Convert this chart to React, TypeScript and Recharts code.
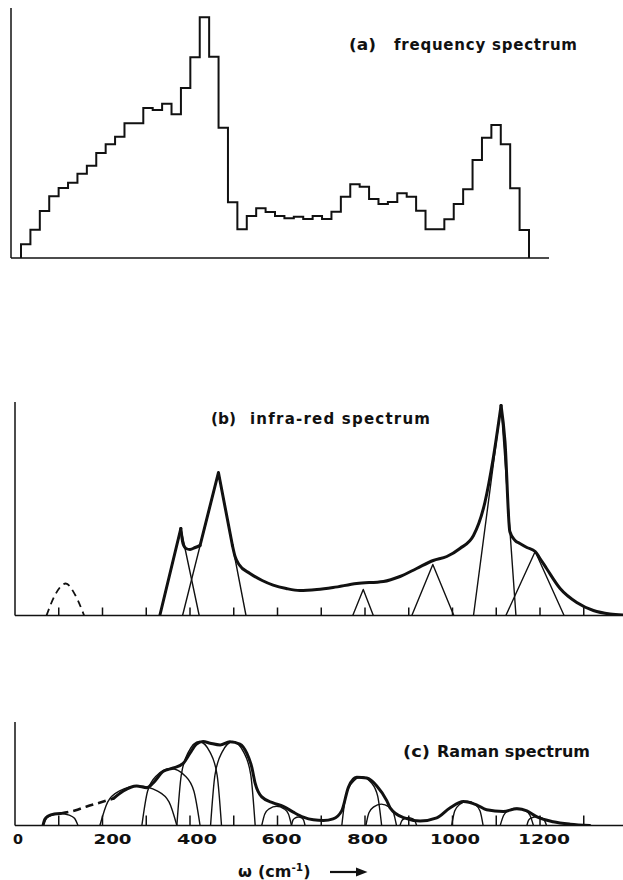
import React from 'react';
import { LineChart, Line, XAxis, YAxis } from 'recharts';

const INK = '#111';
const FONT = '"DejaVu Sans", "Liberation Sans", sans-serif';

type Pair = [number, number];

// (a) frequency spectrum: histogram height of each channel
const freqChannels = [
  13.7, 28.3, 47, 61.7, 70, 75.3, 84.3, 92.3, 105, 113.7, 121.3, 134.7, 134.7, 150,
  148, 154.3, 143.7, 170, 200.7, 240.7, 201.3, 130.3, 55.7, 28.7, 42, 49.7, 46, 42,
  39.7, 41.3, 39, 42, 39, 46.3, 61.3, 73.7, 71.3, 59, 54, 56, 64.7, 61.3, 47.3, 28.7,
  28.7, 38.7, 54, 68.7, 98, 120.3, 133, 113.7, 69.7, 28,
];

// (b) infra-red spectrum: [ω (cm⁻¹), absorption]
const irLowBand: Pair[] = [[72, 0], [91, 20], [116, 32], [137, 21], [158, 0]];
const irBandA: Pair[] = [[331, 0], [379, 87], [421, 0]];
const irBandB: Pair[] = [[383, 0], [465, 143], [528, 0]];
const irBandC: Pair[] = [[772, 0], [796, 26], [819, 0]];
const irBandD: Pair[] = [[907, 0], [955, 51], [1003, 0]];
const irBandE: Pair[] = [[1048, 0], [1111, 210], [1145, 0]];
const irBandF: Pair[] = [[1122, 0], [1189, 64], [1255, 0]];

const irEnvRise: Pair[] = [[331, 0], [379, 87]];
const irEnvDip: Pair[] = [[379, 87], [384, 72], [391, 67], [400, 66], [412, 68], [423, 70]];
const irEnvPeak: Pair[] = [[423, 70], [465, 143], [497, 70]];
const irEnvMid: Pair[] = [
  [497, 70], [503, 59], [512, 51], [537, 42], [565, 35], [590, 30.4], [620, 27], [651, 25],
  [690, 26], [727, 28], [781, 32], [842, 34], [880, 39], [918, 47], [956, 55], [987, 59],
  [1017, 67], [1048, 80], [1074, 113], [1093, 157], [1111, 210],
];
const irEnvTail: Pair[] = [
  [1111, 210], [1120, 174], [1131, 84], [1143, 75], [1154, 72], [1170, 68], [1189, 64],
  [1200, 57], [1215, 47], [1246, 27], [1284, 13], [1322, 5], [1360, 1.5], [1390, 0.5],
];

// (c) Raman spectrum: [ω (cm⁻¹), intensity]
const ramanBands: Pair[][] = [
  [[64, 0], [72, 7.2], [84, 10.4], [104, 12], [124, 10.4], [136, 7.2], [144, 0]],
  [[194, 0], [212, 23.7], [238, 34.4], [282, 39.5], [326, 34.4], [352, 23.7], [370, 0]],
  [[290, 0], [303, 34.2], [323, 49.6], [356, 57], [389, 49.6], [409, 34.2], [423, 0]],
  [[370, 0], [380, 50.4], [396, 73.1], [421, 84], [446, 73.1], [462, 50.4], [472, 0]],
  [[447, 0], [457, 50.4], [473, 73.1], [498, 84], [523, 73.1], [539, 50.4], [549, 0]],
  [[564, 0], [571, 11.5], [581, 16.7], [598, 19.2], [615, 16.7], [625, 11.5], [632, 0]],
  [[632, 0], [635, 5.1], [640, 7.4], [648, 8.5], [656, 7.4], [660, 5.1], [663, 0]],
  [[747, 0], [756, 29.3], [770, 42.5], [792, 48.8], [815, 42.5], [829, 29.3], [838, 0]],
  [[802, 0], [809, 12.8], [820, 18.6], [837, 21.4], [855, 18.6], [865, 12.8], [872, 0]],
  [[880, 0], [884, 4.7], [890, 6.9], [899, 7.9], [908, 6.9], [914, 4.7], [918, 0]],
  [[998, 0], [1005, 14.5], [1016, 21], [1034, 24.2], [1052, 21], [1063, 14.5], [1070, 0]],
  [[1109, 0], [1117, 10.3], [1128, 15], [1147, 17.2], [1166, 15], [1177, 10.3], [1185, 0]],
  [[1170, 0], [1174, 5.3], [1181, 7.7], [1192, 8.8], [1204, 7.7], [1210, 5.3], [1215, 0]],
];
const ramanEnvStart: Pair[] = [[64, 0], [68, 6], [76, 9.5], [90, 11.5], [104, 12]];
const ramanEnvDashed: Pair[] = [[104, 12], [137, 15], [164, 19], [195, 23], [225, 27]];
const ramanEnvMain: Pair[] = [
  [225, 27], [247.5, 34.5], [278, 39.5], [301, 37.8], [316, 42.7], [339, 54.2], [362, 57.5],
  [385, 62.4], [400, 72.3], [415, 81.6], [430, 83.9], [446, 82.3], [469, 80.5], [491, 83.8],
  [514, 81.4], [530, 72.1], [541, 58.7], [549, 42.1], [564, 28.6], [590, 22.6], [613, 19.2],
  [636, 13.4], [659, 8.4], [682, 5.7], [705, 5], [727, 6.6], [747, 14.9], [762, 38.2],
  [781, 48.2], [804, 47.4], [827, 39.6], [850, 24.6], [857, 17.9], [888, 7.8], [926, 4.5],
  [964, 7.6], [994, 17.5], [1025, 24.1], [1055, 20.7], [1078, 15.7], [1116, 14], [1147, 16.7],
  [1170, 14.6], [1192, 8.9], [1230, 3.8], [1269, 1.3], [1314, 0],
];

const tickValues = [0, 100, 200, 300, 400, 500, 600, 700, 800, 900, 1000, 1100, 1200, 1300];
const tickLabels = [0, 200, 400, 600, 800, 1000, 1200];
const labelShift: Record<number, number> = { 0: 3, 200: 10, 400: 7, 600: 4, 800: 2.5, 1000: 2.5, 1200: 4 };
const labelWidth: Record<number, number> = { 0: 10, 200: 38, 400: 40, 600: 40, 800: 41, 1000: 50, 1200: 52 };

const W_MAX = 1389.7;

const pts = (a: Pair[]) => a.map(([w, v]) => ({ w, v }));

const histPoints = [
  { w: 0, v: 0 },
  ...freqChannels.map((v, i) => ({ w: i, v })),
  { w: freqChannels.length, v: 0 },
];

const axisStyle = { stroke: INK, strokeWidth: 1.5 };

function curve(key: string, data: Pair[], type: any, width: number, dash?: string) {
  return (
    <Line
      key={key}
      data={pts(data)}
      dataKey="v"
      type={type}
      stroke={INK}
      strokeWidth={width}
      strokeDasharray={dash}
      strokeLinejoin="round"
      strokeLinecap={dash ? 'butt' : 'round'}
      dot={false}
      activeDot={false}
      isAnimationActive={false}
    />
  );
}

const makeTick = (len: number, withLabels: boolean) => (props: any) => {
  const { x, y, payload } = props;
  const v = payload.value as number;
  const showLabel = withLabels && tickLabels.includes(v);
  return (
    <g>
      {v > 0 && <line x1={x} x2={x} y1={y} y2={y - len} stroke={INK} strokeWidth={1.5} />}
      {showLabel && (
        <text
          x={x + labelShift[v] - labelWidth[v] / 2}
          y={y + 18.5}
          fontFamily={FONT}
          fontWeight={700}
          fontSize={14}
          fill={INK}
          textLength={labelWidth[v]}
          lengthAdjust="spacingAndGlyphs"
        >
          {v}
        </text>
      )}
    </g>
  );
};

const box = (top: number): React.CSSProperties => ({ position: 'absolute', left: 0, top });

export default function App() {
  return (
    <div style={{ position: 'absolute', left: 0, top: 0, width: 623, height: 880, background: '#fff', overflow: 'hidden' }}>
      {/* (a) frequency spectrum */}
      <div style={box(0)}>
        <LineChart width={623} height={270} margin={{ top: 8, right: 74, bottom: 11, left: 10 }}>
          <XAxis dataKey="w" type="number" domain={[-1.063, 56.126]} allowDataOverflow height={1} tick={false} tickLine={false} axisLine={axisStyle} />
          <YAxis type="number" domain={[0, 250]} allowDataOverflow width={1} tick={false} tickLine={false} axisLine={axisStyle} />
          <Line data={histPoints} dataKey="v" type="stepAfter" stroke={INK} strokeWidth={2} dot={false} activeDot={false} isAnimationActive={false} />
        </LineChart>
      </div>

      {/* (b) infra-red spectrum */}
      <div style={box(380)}>
        <LineChart width={623} height={250} margin={{ top: 22, right: 0, bottom: 13.5, left: 14 }}>
          <XAxis dataKey="w" type="number" domain={[0, W_MAX]} allowDataOverflow height={1} ticks={tickValues} interval={0} tickSize={0} tickMargin={0} tickLine={false} tick={makeTick(8, false)} axisLine={axisStyle} />
          <YAxis type="number" domain={[0, 213.5]} allowDataOverflow width={1} tick={false} tickLine={false} axisLine={axisStyle} />
          {curve('low', irLowBand, 'monotone', 1.8, '7 5')}
          {curve('A', irBandA, 'linear', 1.4)}
          {curve('B', irBandB, 'linear', 1.4)}
          {curve('C', irBandC, 'linear', 1.4)}
          {curve('D', irBandD, 'linear', 1.4)}
          {curve('E', irBandE, 'linear', 1.4)}
          {curve('F', irBandF, 'linear', 1.4)}
          {curve('env1', irEnvRise, 'linear', 3)}
          {curve('env2', irEnvDip, 'monotone', 3)}
          {curve('env3', irEnvPeak, 'linear', 3)}
          {curve('env4', irEnvMid, 'monotone', 3)}
          {curve('env5', irEnvTail, 'monotone', 3)}
        </LineChart>
      </div>

      {/* (c) Raman spectrum */}
      <div style={box(700)}>
        <LineChart width={623} height={180} margin={{ top: 22, right: 0, bottom: 53.5, left: 14 }}>
          <XAxis dataKey="w" type="number" domain={[0, W_MAX]} allowDataOverflow height={1} ticks={tickValues} interval={0} tickSize={0} tickMargin={0} tickLine={false} tick={makeTick(10, true)} axisLine={axisStyle} />
          <YAxis type="number" domain={[0, 103.5]} allowDataOverflow width={1} tick={false} tickLine={false} axisLine={axisStyle} />
          {ramanBands.map((b, i) => curve(`r${i}`, b, 'monotone', 1.4))}
          {curve('renv0', ramanEnvStart, 'monotone', 3)}
          {curve('renv1', ramanEnvDashed, 'monotone', 2.6, '8 5')}
          {curve('renv2', ramanEnvMain, 'monotone', 3)}
        </LineChart>
      </div>

      {/* titles and axis caption */}
      <svg width={623} height={880} style={{ position: 'absolute', left: 0, top: 0, pointerEvents: 'none' }}>
        <g fontFamily={FONT} fontWeight={700} fontSize={15} fill={INK}>
          <text x={349} y={50} textLength={27} lengthAdjust="spacingAndGlyphs">(a)</text>
          <text x={394} y={50} textLength={183} lengthAdjust="spacing">frequency spectrum</text>
          <text x={211} y={424} textLength={25} lengthAdjust="spacingAndGlyphs">(b)</text>
          <text x={250} y={424} textLength={180} lengthAdjust="spacing">infra-red spectrum</text>
          <text x={403} y={757} fontSize={16} textLength={27} lengthAdjust="spacingAndGlyphs">(c)</text>
          <text x={437} y={757} fontSize={16} textLength={153} lengthAdjust="spacing">Raman spectrum</text>
          <text x={238} y={877} fontSize={16}>ω</text>
          <text x={258} y={877} fontSize={16}>
            (cm<tspan dy={-6.5} fontSize={10.5}>-1</tspan><tspan dy={6.5}>)</tspan>
          </text>
        </g>
        <line x1={330} y1={872} x2={359} y2={872} stroke={INK} strokeWidth={2.2} />
        <polygon points="356,867.5 367.5,872 356,876.5" fill={INK} />
      </svg>
    </div>
  );
}
